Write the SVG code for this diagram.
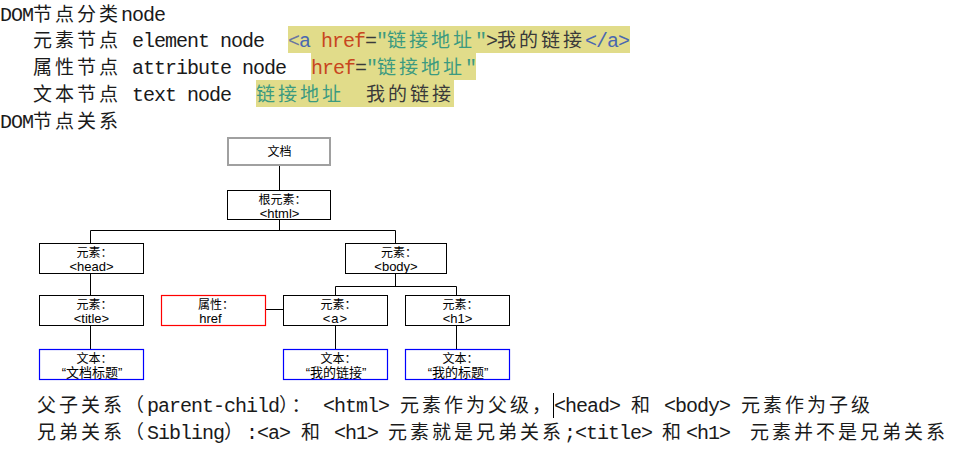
<svg xmlns="http://www.w3.org/2000/svg" width="956" height="453" viewBox="0 0 956 453">
<style>
.t{fill:#1a1a1a}
.a{font-family:"Liberation Mono","DejaVu Sans Mono",monospace;font-size:20px;letter-spacing:-1px}
.c{font-family:"Noto Sans CJK SC","Noto Sans CJK JP",sans-serif;font-size:19px;letter-spacing:3px}
.hl{fill:#e1dc8a}
.bl{fill:#4a68b0}
.rd{fill:#c8461e}
.gn{fill:#3c9a80}
.dk{fill:#3a3a3a}
.box{fill:#fff;stroke:#000;stroke-width:1}
.doc{fill:#fff;stroke:#a0a0a0;stroke-width:2}
.lb{font-family:"Liberation Sans","Noto Sans CJK SC",sans-serif;font-size:13px;fill:#000;text-anchor:middle}
.lc{font-family:"Noto Sans CJK SC",sans-serif;font-size:12px;fill:#000;text-anchor:middle}
.con{stroke:#000;stroke-width:1;fill:none}
</style>

<g id="intro">
<rect class="hl" x="288" y="26" width="342" height="27"/>
<rect class="hl" x="311" y="53" width="165" height="27"/>
<rect class="hl" x="256" y="80" width="198" height="27"/>
<text class="t" y="21"><tspan class="a" x="0">DOM</tspan><tspan class="c" x="33">节点分类</tspan><tspan class="a" x="121">node</tspan></text>
<text class="t" y="47"><tspan class="c" x="33">元素节点</tspan><tspan class="a" x="132">element node</tspan><tspan class="a" x="288" fill="#6a76a0">&lt;</tspan><tspan class="a bl" x="299">a</tspan><tspan class="a rd" x="321">href</tspan><tspan class="a dk" x="365">=</tspan><tspan class="a gn" x="376">"</tspan><tspan class="c gn" x="387">链接地址</tspan><tspan class="a gn" x="475">"</tspan><tspan class="a dk" x="486">&gt;</tspan><tspan class="c dk" x="497">我的链接</tspan><tspan class="a bl" x="585">&lt;/a&gt;</tspan></text>
<text class="t" y="74"><tspan class="c" x="33">属性节点</tspan><tspan class="a" x="132">attribute node</tspan><tspan class="a rd" x="311">href</tspan><tspan class="a dk" x="355">=</tspan><tspan class="a gn" x="366">"</tspan><tspan class="c gn" x="377">链接地址</tspan><tspan class="a gn" x="465">"</tspan></text>
<text class="t" y="101"><tspan class="c" x="33">文本节点</tspan><tspan class="a" x="132">text node</tspan><tspan class="c gn" x="256">链接地址</tspan><tspan class="c dk" x="366">我的链接</tspan></text>
<text class="t" y="128"><tspan class="a" x="0">DOM</tspan><tspan class="c" x="33">节点关系</tspan></text>
</g>

<g id="connectors">
<path class="con" d="M279.5 166 V190"/>
<path class="con" d="M279.5 220 V230.5 M90.5 230.5 H395.5 M90.5 230.5 V243 M395.5 230.5 V243"/>
<path class="con" d="M90.5 273 V295 M90.5 325 V349"/>
<path class="con" d="M395.5 273 V286.5 M335.5 286.5 H456.5 M335.5 286.5 V295 M456.5 286.5 V295"/>
<path class="con" d="M335.5 325 V349 M456.5 325 V349"/>
<path class="con" d="M265.5 309.5 H283"/>
</g>

<g id="node-doc">
<rect class="doc" x="228" y="138" width="102" height="27"/>
<text class="lc" x="279.5" y="156">文档</text>
</g>
<g id="node-html">
<rect class="box" x="227.5" y="190.5" width="103" height="29"/>
<text class="lc" x="282.5" y="203.5">根元素：</text>
<text class="lb" x="279.5" y="217.5">&lt;html&gt;</text>
</g>
<g id="node-head">
<rect class="box" x="39.5" y="243.5" width="104" height="30"/>
<text class="lc" x="94.5" y="257">元素：</text>
<text class="lb" x="91.5" y="270.5">&lt;head&gt;</text>
</g>
<g id="node-body">
<rect class="box" x="345.5" y="243.5" width="101" height="30"/>
<text class="lc" x="399" y="257">元素：</text>
<text class="lb" x="396" y="270.5">&lt;body&gt;</text>
</g>
<g id="node-title">
<rect class="box" x="39.5" y="295.5" width="104" height="30"/>
<text class="lc" x="94.5" y="309">元素：</text>
<text class="lb" x="91.5" y="322.5">&lt;title&gt;</text>
</g>
<g id="node-attr">
<rect x="161.5" y="295.5" width="104" height="30" fill="#fff" stroke="#ff0000" stroke-width="1.2"/>
<text class="lc" x="216" y="309">属性：</text>
<text class="lb" x="210.5" y="322.5">href</text>
</g>
<g id="node-a">
<rect class="box" x="283.5" y="295.5" width="104" height="30"/>
<text class="lc" x="338.5" y="309">元素：</text>
<text class="lb" x="335.5" y="322.5" letter-spacing="1">&lt;a&gt;</text>
</g>
<g id="node-h1">
<rect class="box" x="405.5" y="295.5" width="104" height="30"/>
<text class="lc" x="460.5" y="309">元素：</text>
<text class="lb" x="457.5" y="322.5">&lt;h1&gt;</text>
</g>
<g id="node-text-title">
<rect x="39.5" y="349.5" width="104" height="30" fill="#fff" stroke="#0000ff" stroke-width="1.2"/>
<text class="lc" x="94.5" y="363">文本：</text>
<text class="lb" x="92" y="376.5" font-size="12">“文档标题”</text>
</g>
<g id="node-text-a">
<rect x="283.5" y="349.5" width="104" height="30" fill="#fff" stroke="#0000ff" stroke-width="1.2"/>
<text class="lc" x="338.5" y="363">文本：</text>
<text class="lb" x="336" y="376.5" font-size="12">“我的链接”</text>
</g>
<g id="node-text-h1">
<rect x="405.5" y="349.5" width="104" height="30" fill="#fff" stroke="#0000ff" stroke-width="1.2"/>
<text class="lc" x="460.5" y="363">文本：</text>
<text class="lb" x="458" y="376.5" font-size="12">“我的标题”</text>
</g>

<g id="relations">
<text class="t" y="412"><tspan class="c" x="37">父子关系（</tspan><tspan class="a" x="147">parent-child</tspan><tspan class="c" x="279">）：</tspan><tspan class="a" x="323">&lt;html&gt;</tspan><tspan class="c" x="400">元素作为父级，</tspan><tspan class="a" x="554">&lt;head&gt;</tspan><tspan class="c" x="631">和</tspan><tspan class="a" x="664">&lt;body&gt;</tspan><tspan class="c" x="741">元素作为子级</tspan></text>
<line x1="553.5" y1="393" x2="553.5" y2="418" stroke="#000" stroke-width="1"/>
<text class="t" y="439"><tspan class="c" x="37">兄弟关系（</tspan><tspan class="a" x="147">Sibling</tspan><tspan class="c" x="224">）</tspan><tspan class="a" x="246">:&lt;a&gt;</tspan><tspan class="c" x="301">和</tspan><tspan class="a" x="334">&lt;h1&gt;</tspan><tspan class="c" x="388">元素就是兄弟关系</tspan><tspan class="a" x="564">;&lt;title&gt;</tspan><tspan class="c" x="662">和</tspan><tspan class="a" x="686" letter-spacing="0.5">&lt;h1&gt;</tspan><tspan class="c" x="750">元素并不是兄弟关系</tspan></text>
</g>
</svg>
